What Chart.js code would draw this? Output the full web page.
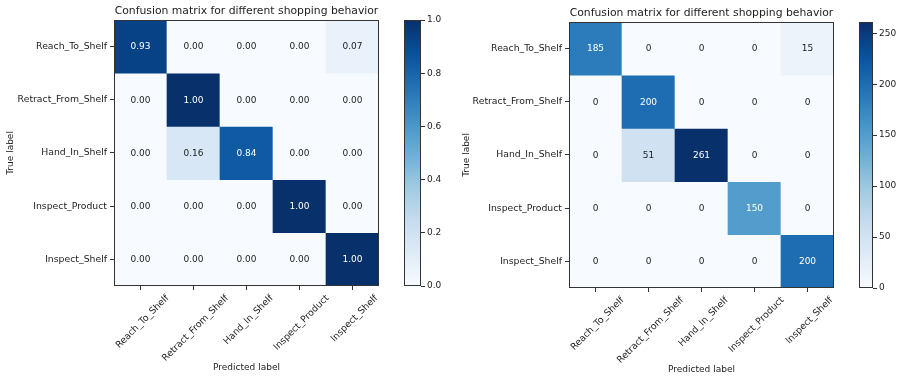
<!DOCTYPE html>
<html>
<head>
<meta charset="utf-8">
<script src="https://cdn.jsdelivr.net/npm/chart.js@4.4.1/dist/chart.umd.min.js"></script>
<style>
  html, body { margin: 0; padding: 0; background: #ffffff; }
  #wrap { position: relative; width: 900px; height: 379px; overflow: hidden; }
  #wrap canvas { position: absolute; top: 0; }
</style>
</head>
<body>
<div id="wrap">
  <canvas id="cmNorm" width="400" height="379" style="left:0px"></canvas>
  <canvas id="cbNorm" width="55" height="379" style="left:395px"></canvas>
  <canvas id="cmCount" width="400" height="379" style="left:450px"></canvas>
  <canvas id="cbCount" width="50" height="379" style="left:850px"></canvas>
</div>
<script>
// ---- data ----
const chartTitle = 'Confusion matrix for different shopping behavior';
const predictedLabels = ['Reach_To_Shelf', 'Retract_From_Shelf', 'Hand_In_Shelf', 'Inspect_Product', 'Inspect_Shelf'];
const trueLabels = ['Reach_To_Shelf', 'Retract_From_Shelf', 'Hand_In_Shelf', 'Inspect_Product', 'Inspect_Shelf'];

// row = true label, column = predicted label
const normalizedRates = [
  [0.93, 0.00, 0.00, 0.00, 0.07],
  [0.00, 1.00, 0.00, 0.00, 0.00],
  [0.00, 0.16, 0.84, 0.00, 0.00],
  [0.00, 0.00, 0.00, 1.00, 0.00],
  [0.00, 0.00, 0.00, 0.00, 1.00]
];
const sampleCounts = [
  [185,   0,   0,   0,  15],
  [  0, 200,   0,   0,   0],
  [  0,  51, 261,   0,   0],
  [  0,   0,   0, 150,   0],
  [  0,   0,   0,   0, 200]
];
const normScaleMax = 1;
const countScaleMax = 261;
const normBarTicks = [0, 0.2, 0.4, 0.6, 0.8, 1.0];
const countBarTicks = [0, 50, 100, 150, 200, 250];

// ---- styling ----
const FONT = "'DejaVu Sans', 'Liberation Sans', sans-serif";
const TEXT = '#1c1c1c';
const EDGE = '#333333';
const BLUES = ['#f7fbff', '#deebf7', '#c6dbef', '#9ecae1', '#6baed6', '#4292c6', '#2171b5', '#08519c', '#08306b'];

function hexToRgb(h) {
  return [parseInt(h.slice(1, 3), 16), parseInt(h.slice(3, 5), 16), parseInt(h.slice(5, 7), 16)];
}
const BLUES_RGB = BLUES.map(hexToRgb);

// sequential "Blues" colour map, t in [0, 1]
function blues(t) {
  t = Math.max(0, Math.min(1, t));
  const p = t * (BLUES_RGB.length - 1);
  const i = Math.min(Math.floor(p), BLUES_RGB.length - 2);
  const f = p - i;
  const a = BLUES_RGB[i], b = BLUES_RGB[i + 1];
  const c = a.map((v, k) => Math.round(v + (b[k] - v) * f));
  return `rgb(${c[0]},${c[1]},${c[2]})`;
}

Chart.defaults.font.family = FONT;
Chart.defaults.color = TEXT;
Chart.defaults.animation = false;

// ---- confusion matrix panel ----
function matrixChart(id, matrix, vmax, format, L) {
  const datasets = trueLabels.map((_, r) => ({
    data: predictedLabels.map(() => [r - 0.5, r + 0.5]),
    backgroundColor: matrix[r].map(v => blues(v / vmax)),
    borderWidth: 0,
    barPercentage: 1,
    categoryPercentage: 1,
    grouped: false
  }));

  const cellText = {
    id: 'cellText',
    afterDatasetsDraw(chart) {
      const { ctx, chartArea: a } = chart;
      const xs = chart.scales.x, ys = chart.scales.y;
      ctx.save();
      ctx.font = `${L.cellFont}px ${FONT}`;
      ctx.textAlign = 'center';
      ctx.textBaseline = 'middle';
      matrix.forEach((row, r) => row.forEach((v, c) => {
        ctx.fillStyle = v > vmax / 2 ? '#ffffff' : TEXT;
        ctx.fillText(format(v), xs.getPixelForValue(c), ys.getPixelForValue(r) + 0.5);
      }));
      // frame round the plot
      ctx.strokeStyle = EDGE;
      ctx.lineWidth = 1;
      ctx.strokeRect(Math.round(a.left) + 0.5, Math.round(a.top) + 0.5,
                     Math.round(a.right - a.left) - 1, Math.round(a.bottom - a.top) - 1);
      ctx.restore();
    }
  };

  // rotated column labels, centred under each tick
  const columnLabels = {
    id: 'columnLabels',
    afterDraw(chart) {
      const { ctx, chartArea: a } = chart;
      const xs = chart.scales.x;
      ctx.save();
      ctx.font = `${L.xTickFont}px ${FONT}`;
      ctx.fillStyle = TEXT;
      ctx.textAlign = 'center';
      ctx.textBaseline = 'middle';
      predictedLabels.forEach((lab, i) => {
        const x = xs.getPixelForTick(i) + 2;
        const w = ctx.measureText(lab).width;
        const h = L.xTickFont * 1.1;
        const d = (w + h) * Math.SQRT1_2 / 2;
        ctx.save();
        ctx.translate(x, a.bottom + L.xLabelGap + d);
        ctx.rotate(-Math.PI / 4);
        ctx.fillText(lab, 0, 0);
        ctx.restore();
      });
      ctx.restore();
    }
  };

  return new Chart(document.getElementById(id), {
    type: 'bar',
    data: { labels: predictedLabels, datasets },
    options: {
      responsive: false,
      maintainAspectRatio: false,
      layout: { padding: { left: 0, top: 0, right: L.padRight, bottom: 0 } },
      plugins: {
        legend: { display: false },
        tooltip: { enabled: false },
        title: {
          display: true,
          text: chartTitle,
          fullSize: false,
          color: TEXT,
          font: { family: FONT, size: L.titleFont, weight: 'normal' },
          padding: { top: L.titleTop, bottom: L.titleBottom }
        }
      },
      scales: {
        x: {
          type: 'category',
          offset: true,
          grid: { display: true, drawOnChartArea: false, drawTicks: true, tickLength: 4, offset: false, color: EDGE, tickColor: EDGE },
          border: { display: false },
          ticks: { display: false },
          title: {
            display: true, text: 'Predicted label', color: TEXT,
            font: { family: FONT, size: L.axisTitleFont },
            padding: { top: 0, bottom: L.xTitlePad }
          },
          afterFit: s => { s.height = L.xAxisH; }
        },
        y: {
          type: 'linear',
          reverse: true,
          min: -0.5,
          max: 4.5,
          afterBuildTicks: s => { s.ticks = trueLabels.map((_, i) => ({ value: i })); },
          grid: { display: true, drawOnChartArea: false, drawTicks: true, tickLength: 4, color: EDGE, tickColor: EDGE },
          border: { display: false },
          ticks: {
            autoSkip: false,
            padding: 3,
            color: TEXT,
            font: { family: FONT, size: L.yTickFont },
            callback: v => trueLabels[v]
          },
          title: {
            display: true, text: 'True label', color: TEXT,
            font: { family: FONT, size: L.axisTitleFont },
            padding: { top: L.yTitlePad, bottom: 0 }
          },
          afterFit: s => { s.width = L.yAxisW; }
        }
      }
    },
    plugins: [cellText, columnLabels]
  });
}

// ---- colour bar ----
function colorbarChart(id, vmax, tickValues, decimals, L) {
  const frame = {
    id: 'frame',
    afterDatasetsDraw(chart) {
      const { ctx, chartArea: a } = chart;
      ctx.save();
      ctx.strokeStyle = EDGE;
      ctx.lineWidth = 1;
      ctx.strokeRect(Math.round(a.left) + 0.5, Math.round(a.top) + 0.5,
                     Math.round(a.right - a.left) - 1, Math.round(a.bottom - a.top) - 1);
      ctx.restore();
    }
  };
  return new Chart(document.getElementById(id), {
    type: 'bar',
    data: {
      labels: [''],
      datasets: [{
        data: [[0, vmax]],
        borderWidth: 0,
        barPercentage: 1,
        categoryPercentage: 1,
        backgroundColor: c => {
          const chart = c.chart;
          const ys = chart.scales.y;
          if (!chart.chartArea || !ys) return BLUES[0];
          const g = chart.ctx.createLinearGradient(0, ys.getPixelForValue(0), 0, ys.getPixelForValue(vmax));
          BLUES.forEach((col, i) => g.addColorStop(i / (BLUES.length - 1), col));
          return g;
        }
      }]
    },
    options: {
      responsive: false,
      maintainAspectRatio: false,
      layout: { padding: { left: L.padLeft, top: L.top, right: 0, bottom: L.bottom } },
      plugins: { legend: { display: false }, tooltip: { enabled: false }, title: { display: false } },
      scales: {
        x: { display: false },
        y: {
          position: 'right',
          min: 0,
          max: vmax,
          afterBuildTicks: s => { s.ticks = tickValues.map(v => ({ value: v })); },
          grid: { display: true, drawOnChartArea: false, drawTicks: true, tickLength: 4, color: EDGE, tickColor: EDGE },
          border: { display: false },
          ticks: {
            autoSkip: false,
            padding: 2,
            color: TEXT,
            font: { family: FONT, size: L.tickFont },
            callback: v => Number(v).toFixed(decimals)
          },
          afterFit: s => { s.width = L.axisW; }
        }
      }
    },
    plugins: [frame]
  });
}

matrixChart('cmNorm', normalizedRates, normScaleMax, v => v.toFixed(2), {
  padRight: 21, yAxisW: 114, xAxisH: 93,
  titleFont: 10.8, titleTop: 5, titleBottom: 2.0,
  axisTitleFont: 9, xTitlePad: 5.6, yTitlePad: 5.6,
  yTickFont: 9.3, xTickFont: 9.3, xLabelGap: 7, cellFont: 9
});
colorbarChart('cbNorm', normScaleMax, normBarTicks, 1, {
  padLeft: 9, top: 20, bottom: 93, axisW: 29, tickFont: 9
});
matrixChart('cmCount', sampleCounts, countScaleMax, v => String(v), {
  padRight: 16, yAxisW: 119, xAxisH: 91,
  titleFont: 10.8, titleTop: 6.5, titleBottom: 2.5,
  axisTitleFont: 9, xTitlePad: 3.6, yTitlePad: 11.6,
  yTickFont: 9.3, xTickFont: 9.3, xLabelGap: 7, cellFont: 9
});
colorbarChart('cbCount', countScaleMax, countBarTicks, 0, {
  padLeft: 9, top: 22, bottom: 91, axisW: 27, tickFont: 9
});
</script>
</body>
</html>
